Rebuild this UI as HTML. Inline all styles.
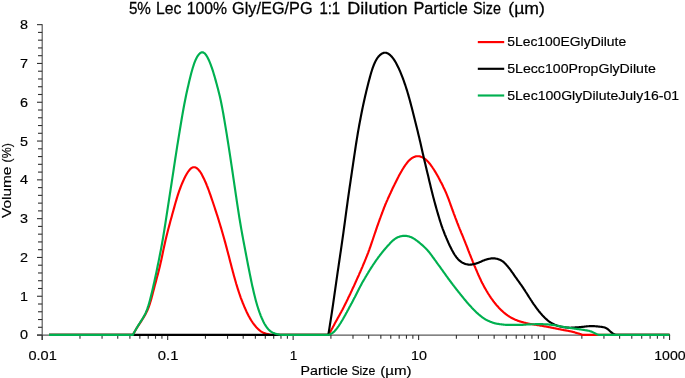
<!DOCTYPE html>
<html lang="en">
<head>
<meta charset="utf-8">
<title>5% Lec 100% Gly/EG/PG 1:1 Dilution Particle Size</title>
<style>
html,body{margin:0;padding:0;background:#fff;}
body{width:685px;height:378px;overflow:hidden;}
svg{display:block;}
text{font-family:"Liberation Sans",sans-serif;fill:#000;stroke:#000;stroke-width:0.18px;}
.ax line{stroke:#303030;stroke-width:1.1;}
.ax line.m{stroke:#5a5a5a;stroke-width:1.2;}
.lbl text{font-size:13.6px;}
text.ttl{stroke-width:0.28px;}
.curve{fill:none;stroke-width:2.15;stroke-linejoin:round;stroke-linecap:butt;}
</style>
</head>
<body>
<svg width="685" height="378" viewBox="0 0 685 378">
<rect width="685" height="378" fill="#fff"/>
<text class="ttl" y="14" font-size="17.1"><tspan x="128.9" textLength="22.0" lengthAdjust="spacingAndGlyphs">5%</tspan> <tspan x="156.1" textLength="25.3" lengthAdjust="spacingAndGlyphs">Lec</tspan> <tspan x="186.7" textLength="40.3" lengthAdjust="spacingAndGlyphs">100%</tspan> <tspan x="232.1" textLength="80.5" lengthAdjust="spacingAndGlyphs">Gly/EG/PG</tspan> <tspan x="319.4" textLength="20.8" lengthAdjust="spacingAndGlyphs">1:1</tspan> <tspan x="347.3" textLength="60.3" lengthAdjust="spacingAndGlyphs">Dilution</tspan> <tspan x="413.4" textLength="54.4" lengthAdjust="spacingAndGlyphs">Particle</tspan> <tspan x="473.1" textLength="27.8" lengthAdjust="spacingAndGlyphs">Size</tspan> <tspan x="508.3" textLength="36.6" lengthAdjust="spacingAndGlyphs">(µm)</tspan></text>
<g class="ax">
<line class="m" x1="42.2" y1="24.2" x2="42.2" y2="340.0"/>
<line class="m" x1="37" y1="335.05" x2="670.15" y2="335.05"/>
<line x1="37.0" y1="335.05" x2="42.2" y2="335.05"/>
<line x1="38.0" y1="327.29" x2="42.2" y2="327.29"/>
<line x1="38.0" y1="319.53" x2="42.2" y2="319.53"/>
<line x1="38.0" y1="311.77" x2="42.2" y2="311.77"/>
<line x1="38.0" y1="304.01" x2="42.2" y2="304.01"/>
<line x1="37.0" y1="296.25" x2="42.2" y2="296.25"/>
<line x1="38.0" y1="288.49" x2="42.2" y2="288.49"/>
<line x1="38.0" y1="280.73" x2="42.2" y2="280.73"/>
<line x1="38.0" y1="272.97" x2="42.2" y2="272.97"/>
<line x1="38.0" y1="265.21" x2="42.2" y2="265.21"/>
<line x1="37.0" y1="257.45" x2="42.2" y2="257.45"/>
<line x1="38.0" y1="249.69" x2="42.2" y2="249.69"/>
<line x1="38.0" y1="241.93" x2="42.2" y2="241.93"/>
<line x1="38.0" y1="234.17" x2="42.2" y2="234.17"/>
<line x1="38.0" y1="226.41" x2="42.2" y2="226.41"/>
<line x1="37.0" y1="218.65" x2="42.2" y2="218.65"/>
<line x1="38.0" y1="210.89" x2="42.2" y2="210.89"/>
<line x1="38.0" y1="203.13" x2="42.2" y2="203.13"/>
<line x1="38.0" y1="195.37" x2="42.2" y2="195.37"/>
<line x1="38.0" y1="187.61" x2="42.2" y2="187.61"/>
<line x1="37.0" y1="179.85" x2="42.2" y2="179.85"/>
<line x1="38.0" y1="172.09" x2="42.2" y2="172.09"/>
<line x1="38.0" y1="164.33" x2="42.2" y2="164.33"/>
<line x1="38.0" y1="156.57" x2="42.2" y2="156.57"/>
<line x1="38.0" y1="148.81" x2="42.2" y2="148.81"/>
<line x1="37.0" y1="141.05" x2="42.2" y2="141.05"/>
<line x1="38.0" y1="133.29" x2="42.2" y2="133.29"/>
<line x1="38.0" y1="125.53" x2="42.2" y2="125.53"/>
<line x1="38.0" y1="117.77" x2="42.2" y2="117.77"/>
<line x1="38.0" y1="110.01" x2="42.2" y2="110.01"/>
<line x1="37.0" y1="102.25" x2="42.2" y2="102.25"/>
<line x1="38.0" y1="94.49" x2="42.2" y2="94.49"/>
<line x1="38.0" y1="86.73" x2="42.2" y2="86.73"/>
<line x1="38.0" y1="78.97" x2="42.2" y2="78.97"/>
<line x1="38.0" y1="71.21" x2="42.2" y2="71.21"/>
<line x1="37.0" y1="63.45" x2="42.2" y2="63.45"/>
<line x1="38.0" y1="55.69" x2="42.2" y2="55.69"/>
<line x1="38.0" y1="47.93" x2="42.2" y2="47.93"/>
<line x1="38.0" y1="40.17" x2="42.2" y2="40.17"/>
<line x1="38.0" y1="32.41" x2="42.2" y2="32.41"/>
<line x1="37.0" y1="24.65" x2="42.2" y2="24.65"/>
<line x1="42.20" y1="335.05" x2="42.20" y2="340.0"/>
<line x1="79.97" y1="335.05" x2="79.97" y2="338.8"/>
<line x1="102.06" y1="335.05" x2="102.06" y2="338.8"/>
<line x1="117.74" y1="335.05" x2="117.74" y2="338.8"/>
<line x1="129.90" y1="335.05" x2="129.90" y2="338.8"/>
<line x1="139.83" y1="335.05" x2="139.83" y2="338.8"/>
<line x1="148.23" y1="335.05" x2="148.23" y2="338.8"/>
<line x1="155.51" y1="335.05" x2="155.51" y2="338.8"/>
<line x1="161.93" y1="335.05" x2="161.93" y2="338.8"/>
<line x1="167.67" y1="335.05" x2="167.67" y2="340.0"/>
<line x1="205.44" y1="335.05" x2="205.44" y2="338.8"/>
<line x1="227.53" y1="335.05" x2="227.53" y2="338.8"/>
<line x1="243.21" y1="335.05" x2="243.21" y2="338.8"/>
<line x1="255.37" y1="335.05" x2="255.37" y2="338.8"/>
<line x1="265.30" y1="335.05" x2="265.30" y2="338.8"/>
<line x1="273.70" y1="335.05" x2="273.70" y2="338.8"/>
<line x1="280.98" y1="335.05" x2="280.98" y2="338.8"/>
<line x1="287.40" y1="335.05" x2="287.40" y2="338.8"/>
<line x1="293.14" y1="335.05" x2="293.14" y2="340.0"/>
<line x1="330.91" y1="335.05" x2="330.91" y2="338.8"/>
<line x1="353.00" y1="335.05" x2="353.00" y2="338.8"/>
<line x1="368.68" y1="335.05" x2="368.68" y2="338.8"/>
<line x1="380.84" y1="335.05" x2="380.84" y2="338.8"/>
<line x1="390.77" y1="335.05" x2="390.77" y2="338.8"/>
<line x1="399.17" y1="335.05" x2="399.17" y2="338.8"/>
<line x1="406.45" y1="335.05" x2="406.45" y2="338.8"/>
<line x1="412.87" y1="335.05" x2="412.87" y2="338.8"/>
<line x1="418.61" y1="335.05" x2="418.61" y2="340.0"/>
<line x1="456.38" y1="335.05" x2="456.38" y2="338.8"/>
<line x1="478.47" y1="335.05" x2="478.47" y2="338.8"/>
<line x1="494.15" y1="335.05" x2="494.15" y2="338.8"/>
<line x1="506.31" y1="335.05" x2="506.31" y2="338.8"/>
<line x1="516.24" y1="335.05" x2="516.24" y2="338.8"/>
<line x1="524.64" y1="335.05" x2="524.64" y2="338.8"/>
<line x1="531.92" y1="335.05" x2="531.92" y2="338.8"/>
<line x1="538.34" y1="335.05" x2="538.34" y2="338.8"/>
<line x1="544.08" y1="335.05" x2="544.08" y2="340.0"/>
<line x1="581.85" y1="335.05" x2="581.85" y2="338.8"/>
<line x1="603.94" y1="335.05" x2="603.94" y2="338.8"/>
<line x1="619.62" y1="335.05" x2="619.62" y2="338.8"/>
<line x1="631.78" y1="335.05" x2="631.78" y2="338.8"/>
<line x1="641.71" y1="335.05" x2="641.71" y2="338.8"/>
<line x1="650.11" y1="335.05" x2="650.11" y2="338.8"/>
<line x1="657.39" y1="335.05" x2="657.39" y2="338.8"/>
<line x1="663.81" y1="335.05" x2="663.81" y2="338.8"/>
<line x1="669.55" y1="335.05" x2="669.55" y2="340.0"/>
</g>
<g class="lbl">
<text x="28" y="339.4" text-anchor="end" textLength="8" lengthAdjust="spacingAndGlyphs">0</text>
<text x="28" y="300.6" text-anchor="end" textLength="8" lengthAdjust="spacingAndGlyphs">1</text>
<text x="28" y="261.9" text-anchor="end" textLength="8" lengthAdjust="spacingAndGlyphs">2</text>
<text x="28" y="223.1" text-anchor="end" textLength="8" lengthAdjust="spacingAndGlyphs">3</text>
<text x="28" y="184.3" text-anchor="end" textLength="8" lengthAdjust="spacingAndGlyphs">4</text>
<text x="28" y="145.5" text-anchor="end" textLength="8" lengthAdjust="spacingAndGlyphs">5</text>
<text x="28" y="106.7" text-anchor="end" textLength="8" lengthAdjust="spacingAndGlyphs">6</text>
<text x="28" y="67.9" text-anchor="end" textLength="8" lengthAdjust="spacingAndGlyphs">7</text>
<text x="28" y="29.1" text-anchor="end" textLength="8" lengthAdjust="spacingAndGlyphs">8</text>
<text x="28.5" y="360.2" textLength="28.3" lengthAdjust="spacingAndGlyphs">0.01</text>
<text x="157.8" y="360.2" textLength="20.6" lengthAdjust="spacingAndGlyphs">0.1</text>
<text x="289.7" y="360.2" textLength="7.6" lengthAdjust="spacingAndGlyphs">1</text>
<text x="411.1" y="360.2" textLength="15.9" lengthAdjust="spacingAndGlyphs">10</text>
<text x="532.7" y="360.2" textLength="23.6" lengthAdjust="spacingAndGlyphs">100</text>
<text x="654.2" y="360.2" textLength="31.4" lengthAdjust="spacingAndGlyphs">1000</text>
<text y="374.5"><tspan x="300.6" textLength="47.4" lengthAdjust="spacingAndGlyphs">Particle</tspan> <tspan x="351.4" textLength="23.8" lengthAdjust="spacingAndGlyphs">Size</tspan> <tspan x="380.2" textLength="31.4" lengthAdjust="spacingAndGlyphs">(µm)</tspan></text>
<text transform="translate(11.1,218) rotate(-90)"><tspan x="0" textLength="51.4" lengthAdjust="spacingAndGlyphs">Volume</tspan> <tspan x="55.6" textLength="19.2" lengthAdjust="spacingAndGlyphs">(%)</tspan></text>
<text x="507.2" y="46.1" font-size="14" textLength="119" lengthAdjust="spacingAndGlyphs">5Lec100EGlyDilute</text>
<text x="507.2" y="72.8" font-size="14" textLength="148.6" lengthAdjust="spacingAndGlyphs">5Lecc100PropGlyDilute</text>
<text x="507.2" y="99.5" font-size="14" textLength="172" lengthAdjust="spacingAndGlyphs">5Lec100GlyDiluteJuly16-01</text>
</g>
<path class="curve" stroke="#ff0000" d="M49.0,334.9 L132.8,334.9 L132.8,334.9 L133.3,334.1 L133.8,333.2 L134.3,332.3 L134.8,331.4 L135.3,330.5 L135.8,329.7 L136.3,328.8 L136.8,328.0 L137.3,327.2 L137.8,326.4 L138.3,325.7 L138.8,324.9 L139.3,324.1 L139.8,323.4 L140.3,322.6 L140.8,321.8 L141.3,321.1 L141.8,320.3 L142.3,319.5 L142.8,318.7 L143.3,317.9 L143.8,317.1 L144.3,316.2 L144.8,315.4 L145.3,314.5 L145.8,313.6 L146.3,312.6 L146.8,311.6 L147.3,310.5 L147.8,309.3 L148.3,308.1 L148.8,306.8 L149.3,305.4 L149.8,303.9 L150.3,302.3 L150.8,300.6 L151.3,298.9 L151.8,297.0 L152.3,295.2 L152.8,293.3 L153.3,291.3 L153.8,289.4 L154.3,287.5 L154.8,285.6 L155.3,283.7 L155.8,281.9 L156.3,280.0 L156.8,278.1 L157.3,276.3 L157.8,274.4 L158.3,272.5 L158.8,270.5 L159.3,268.5 L159.8,266.5 L160.3,264.3 L160.8,262.1 L161.3,259.9 L161.8,257.5 L162.3,255.2 L162.8,252.8 L163.3,250.4 L163.8,248.0 L164.3,245.7 L164.8,243.4 L165.3,241.2 L165.8,239.1 L166.3,237.0 L166.8,235.0 L167.3,233.0 L167.8,231.0 L168.3,229.1 L168.8,227.2 L169.3,225.4 L169.8,223.5 L170.3,221.6 L170.8,219.8 L171.3,218.0 L171.8,216.2 L172.3,214.3 L172.8,212.5 L173.3,210.7 L173.8,208.9 L174.3,207.1 L174.8,205.3 L175.3,203.5 L175.8,201.8 L176.3,200.1 L176.8,198.4 L177.3,196.7 L177.8,195.1 L178.3,193.6 L178.8,192.1 L179.3,190.7 L179.8,189.3 L180.3,188.0 L180.8,186.7 L181.3,185.4 L181.8,184.2 L182.3,183.0 L182.8,181.8 L183.3,180.7 L183.8,179.6 L184.3,178.5 L184.8,177.5 L185.3,176.5 L185.8,175.6 L186.3,174.7 L186.8,173.8 L187.3,173.0 L187.8,172.2 L188.3,171.5 L188.8,170.8 L189.3,170.2 L189.8,169.6 L190.3,169.1 L190.8,168.6 L191.3,168.2 L191.8,167.9 L192.3,167.6 L192.8,167.4 L193.3,167.3 L193.8,167.2 L194.3,167.2 L194.8,167.3 L195.3,167.4 L195.8,167.6 L196.3,167.9 L196.8,168.2 L197.3,168.6 L197.8,169.0 L198.3,169.5 L198.8,170.1 L199.3,170.7 L199.8,171.3 L200.3,172.0 L200.8,172.8 L201.3,173.6 L201.8,174.5 L202.3,175.4 L202.8,176.4 L203.3,177.4 L203.8,178.4 L204.3,179.5 L204.8,180.6 L205.3,181.7 L205.8,182.8 L206.3,184.0 L206.8,185.3 L207.3,186.5 L207.8,187.8 L208.3,189.1 L208.8,190.5 L209.3,191.9 L209.8,193.3 L210.3,194.7 L210.8,196.2 L211.3,197.6 L211.8,199.1 L212.3,200.5 L212.8,202.0 L213.3,203.5 L213.8,205.0 L214.3,206.5 L214.8,208.0 L215.3,209.6 L215.8,211.1 L216.3,212.6 L216.8,214.2 L217.3,215.7 L217.8,217.3 L218.3,218.9 L218.8,220.5 L219.3,222.2 L219.8,223.8 L220.3,225.5 L220.8,227.1 L221.3,228.8 L221.8,230.5 L222.3,232.3 L222.8,234.0 L223.3,235.7 L223.8,237.5 L224.3,239.3 L224.8,241.1 L225.3,242.9 L225.8,244.8 L226.3,246.6 L226.8,248.5 L227.3,250.4 L227.8,252.3 L228.3,254.2 L228.8,256.1 L229.3,258.0 L229.8,260.0 L230.3,261.9 L230.8,263.8 L231.3,265.8 L231.8,267.7 L232.3,269.6 L232.8,271.5 L233.3,273.3 L233.8,275.2 L234.3,277.0 L234.8,278.8 L235.3,280.5 L235.8,282.2 L236.3,284.0 L236.8,285.6 L237.3,287.3 L237.8,288.9 L238.3,290.4 L238.8,292.0 L239.3,293.5 L239.8,294.9 L240.3,296.4 L240.8,297.8 L241.3,299.1 L241.8,300.4 L242.3,301.7 L242.8,303.0 L243.3,304.2 L243.8,305.4 L244.3,306.6 L244.8,307.8 L245.3,308.9 L245.8,310.0 L246.3,311.1 L246.8,312.2 L247.3,313.2 L247.8,314.2 L248.3,315.2 L248.8,316.2 L249.3,317.1 L249.8,318.0 L250.3,318.9 L250.8,319.7 L251.3,320.5 L251.8,321.3 L252.3,322.0 L252.8,322.8 L253.3,323.5 L253.8,324.1 L254.3,324.8 L254.8,325.4 L255.3,326.0 L255.8,326.6 L256.3,327.2 L256.8,327.7 L257.3,328.2 L257.8,328.7 L258.3,329.2 L258.8,329.7 L259.3,330.1 L259.8,330.5 L260.3,330.9 L260.8,331.3 L261.3,331.6 L261.8,331.9 L262.3,332.2 L262.8,332.4 L263.3,332.7 L263.8,332.9 L264.3,333.1 L264.8,333.3 L265.3,333.4 L265.8,333.6 L266.3,333.7 L266.8,333.9 L267.3,334.0 L267.8,334.1 L268.3,334.3 L268.8,334.4 L269.3,334.5 L269.8,334.6 L270.3,334.7 L270.8,334.8 L271.3,334.9 L271.8,334.9 L272.0,334.9 L328.3,334.9 L328.3,334.9 L328.8,334.2 L329.3,333.4 L329.8,332.6 L330.3,331.7 L330.8,330.9 L331.3,330.0 L331.8,329.1 L332.3,328.2 L332.8,327.2 L333.3,326.3 L333.8,325.4 L334.3,324.4 L334.8,323.5 L335.3,322.6 L335.8,321.7 L336.3,320.8 L336.8,319.9 L337.3,319.0 L337.8,318.1 L338.3,317.2 L338.8,316.3 L339.3,315.4 L339.8,314.5 L340.3,313.6 L340.8,312.7 L341.3,311.8 L341.8,310.8 L342.3,309.9 L342.8,308.9 L343.3,307.9 L343.8,307.0 L344.3,306.0 L344.8,305.0 L345.3,304.0 L345.8,303.0 L346.3,302.0 L346.8,300.9 L347.3,299.9 L347.8,298.9 L348.3,297.8 L348.8,296.8 L349.3,295.8 L349.8,294.7 L350.3,293.7 L350.8,292.6 L351.3,291.5 L351.8,290.5 L352.3,289.4 L352.8,288.3 L353.3,287.2 L353.8,286.2 L354.3,285.1 L354.8,284.0 L355.3,282.9 L355.8,281.8 L356.3,280.6 L356.8,279.5 L357.3,278.4 L357.8,277.3 L358.3,276.2 L358.8,275.1 L359.3,273.9 L359.8,272.8 L360.3,271.7 L360.8,270.5 L361.3,269.4 L361.8,268.2 L362.3,267.1 L362.8,265.9 L363.3,264.7 L363.8,263.5 L364.3,262.3 L364.8,261.1 L365.3,259.9 L365.8,258.7 L366.3,257.4 L366.8,256.2 L367.3,254.9 L367.8,253.6 L368.3,252.3 L368.8,250.9 L369.3,249.6 L369.8,248.2 L370.3,246.8 L370.8,245.4 L371.3,243.9 L371.8,242.4 L372.3,241.0 L372.8,239.5 L373.3,238.0 L373.8,236.5 L374.3,235.0 L374.8,233.5 L375.3,232.1 L375.8,230.6 L376.3,229.1 L376.8,227.7 L377.3,226.2 L377.8,224.8 L378.3,223.4 L378.8,222.0 L379.3,220.6 L379.8,219.2 L380.3,217.9 L380.8,216.5 L381.3,215.1 L381.8,213.8 L382.3,212.5 L382.8,211.1 L383.3,209.8 L383.8,208.5 L384.3,207.2 L384.8,206.0 L385.3,204.7 L385.8,203.5 L386.3,202.4 L386.8,201.2 L387.3,200.1 L387.8,198.9 L388.3,197.8 L388.8,196.7 L389.3,195.6 L389.8,194.5 L390.3,193.4 L390.8,192.4 L391.3,191.3 L391.8,190.2 L392.3,189.1 L392.8,188.1 L393.3,187.0 L393.8,186.0 L394.3,185.0 L394.8,183.9 L395.3,182.9 L395.8,181.9 L396.3,180.9 L396.8,179.9 L397.3,178.9 L397.8,177.9 L398.3,177.0 L398.8,176.0 L399.3,175.1 L399.8,174.2 L400.3,173.3 L400.8,172.4 L401.3,171.5 L401.8,170.7 L402.3,169.8 L402.8,169.0 L403.3,168.2 L403.8,167.4 L404.3,166.7 L404.8,165.9 L405.3,165.2 L405.8,164.5 L406.3,163.8 L406.8,163.1 L407.3,162.5 L407.8,161.9 L408.3,161.3 L408.8,160.8 L409.3,160.3 L409.8,159.8 L410.3,159.4 L410.8,159.0 L411.3,158.6 L411.8,158.2 L412.3,157.9 L412.8,157.6 L413.3,157.4 L413.8,157.1 L414.3,156.9 L414.8,156.7 L415.3,156.5 L415.8,156.4 L416.3,156.3 L416.8,156.2 L417.3,156.2 L417.8,156.2 L418.3,156.2 L418.8,156.2 L419.3,156.3 L419.8,156.4 L420.3,156.5 L420.8,156.7 L421.3,156.9 L421.8,157.1 L422.3,157.3 L422.8,157.6 L423.3,157.9 L423.8,158.2 L424.3,158.5 L424.8,158.8 L425.3,159.2 L425.8,159.6 L426.3,160.0 L426.8,160.5 L427.3,161.0 L427.8,161.5 L428.3,162.0 L428.8,162.6 L429.3,163.2 L429.8,163.8 L430.3,164.4 L430.8,165.1 L431.3,165.8 L431.8,166.5 L432.3,167.2 L432.8,168.0 L433.3,168.7 L433.8,169.5 L434.3,170.3 L434.8,171.1 L435.3,171.9 L435.8,172.7 L436.3,173.6 L436.8,174.4 L437.3,175.3 L437.8,176.2 L438.3,177.1 L438.8,178.1 L439.3,179.0 L439.8,179.9 L440.3,180.9 L440.8,181.9 L441.3,182.8 L441.8,183.8 L442.3,184.8 L442.8,185.8 L443.3,186.9 L443.8,187.9 L444.3,188.9 L444.8,190.0 L445.3,191.1 L445.8,192.2 L446.3,193.4 L446.8,194.6 L447.3,195.8 L447.8,197.1 L448.3,198.4 L448.8,199.7 L449.3,201.1 L449.8,202.5 L450.3,203.9 L450.8,205.3 L451.3,206.7 L451.8,208.1 L452.3,209.5 L452.8,210.8 L453.3,212.2 L453.8,213.6 L454.3,214.9 L454.8,216.2 L455.3,217.6 L455.8,218.9 L456.3,220.2 L456.8,221.5 L457.3,222.8 L457.8,224.0 L458.3,225.3 L458.8,226.6 L459.3,227.8 L459.8,229.1 L460.3,230.3 L460.8,231.5 L461.3,232.8 L461.8,234.0 L462.3,235.2 L462.8,236.4 L463.3,237.6 L463.8,238.9 L464.3,240.1 L464.8,241.3 L465.3,242.6 L465.8,243.9 L466.3,245.1 L466.8,246.4 L467.3,247.7 L467.8,249.0 L468.3,250.3 L468.8,251.5 L469.3,252.8 L469.8,254.1 L470.3,255.3 L470.8,256.6 L471.3,257.9 L471.8,259.1 L472.3,260.3 L472.8,261.6 L473.3,262.8 L473.8,264.0 L474.3,265.3 L474.8,266.5 L475.3,267.7 L475.8,268.9 L476.3,270.0 L476.8,271.2 L477.3,272.4 L477.8,273.5 L478.3,274.7 L478.8,275.8 L479.3,276.9 L479.8,278.0 L480.3,279.1 L480.8,280.1 L481.3,281.2 L481.8,282.2 L482.3,283.2 L482.8,284.1 L483.3,285.1 L483.8,286.0 L484.3,286.9 L484.8,287.9 L485.3,288.7 L485.8,289.6 L486.3,290.5 L486.8,291.3 L487.3,292.1 L487.8,293.0 L488.3,293.8 L488.8,294.5 L489.3,295.3 L489.8,296.1 L490.3,296.8 L490.8,297.6 L491.3,298.3 L491.8,299.0 L492.3,299.7 L492.8,300.4 L493.3,301.1 L493.8,301.7 L494.3,302.4 L494.8,303.0 L495.3,303.6 L495.8,304.3 L496.3,304.9 L496.8,305.4 L497.3,306.0 L497.8,306.6 L498.3,307.1 L498.8,307.7 L499.3,308.2 L499.8,308.7 L500.3,309.2 L500.8,309.7 L501.3,310.2 L501.8,310.7 L502.3,311.1 L502.8,311.6 L503.3,312.0 L503.8,312.5 L504.3,312.9 L504.8,313.3 L505.3,313.7 L505.8,314.1 L506.3,314.5 L506.8,314.8 L507.3,315.2 L507.8,315.6 L508.3,315.9 L508.8,316.2 L509.3,316.6 L509.8,316.9 L510.3,317.2 L510.8,317.5 L511.3,317.7 L511.8,318.0 L512.3,318.3 L512.8,318.5 L513.3,318.8 L513.8,319.0 L514.3,319.2 L514.8,319.5 L515.3,319.7 L515.8,319.9 L516.3,320.1 L516.8,320.3 L517.3,320.5 L517.8,320.7 L518.3,320.9 L518.8,321.0 L519.3,321.2 L519.8,321.4 L520.3,321.5 L520.8,321.7 L521.3,321.8 L521.8,322.0 L522.3,322.1 L522.8,322.3 L523.3,322.4 L523.8,322.5 L524.3,322.7 L524.8,322.8 L525.3,322.9 L525.8,323.0 L526.3,323.2 L526.8,323.3 L527.3,323.4 L527.8,323.5 L528.3,323.6 L528.8,323.7 L529.3,323.8 L529.8,323.9 L530.3,324.0 L530.8,324.0 L531.3,324.1 L531.8,324.2 L532.3,324.3 L532.8,324.4 L533.3,324.4 L533.8,324.5 L534.3,324.6 L534.8,324.7 L535.3,324.7 L535.8,324.8 L536.3,324.9 L536.8,325.0 L537.3,325.1 L537.8,325.1 L538.3,325.2 L538.8,325.3 L539.3,325.4 L539.8,325.5 L540.3,325.6 L540.8,325.6 L541.3,325.7 L541.8,325.8 L542.3,325.9 L542.8,326.0 L543.3,326.1 L543.8,326.2 L544.3,326.3 L544.8,326.3 L545.3,326.4 L545.8,326.5 L546.3,326.6 L546.8,326.7 L547.3,326.8 L547.8,326.9 L548.3,327.0 L548.8,327.1 L549.3,327.2 L549.8,327.3 L550.3,327.4 L550.8,327.5 L551.3,327.6 L551.8,327.7 L552.3,327.8 L552.8,327.9 L553.3,328.0 L553.8,328.1 L554.3,328.2 L554.8,328.3 L555.3,328.4 L555.8,328.5 L556.3,328.6 L556.8,328.7 L557.3,328.8 L557.8,328.9 L558.3,329.0 L558.8,329.1 L559.3,329.2 L559.8,329.3 L560.3,329.4 L560.8,329.5 L561.3,329.6 L561.8,329.7 L562.3,329.8 L562.8,329.9 L563.3,330.0 L563.8,330.1 L564.3,330.2 L564.8,330.3 L565.3,330.3 L565.8,330.4 L566.3,330.5 L566.8,330.6 L567.3,330.7 L567.8,330.8 L568.3,330.9 L568.8,331.0 L569.3,331.1 L569.8,331.2 L570.3,331.3 L570.8,331.4 L571.3,331.5 L571.8,331.6 L572.3,331.8 L572.8,331.9 L573.3,332.0 L573.8,332.1 L574.3,332.3 L574.8,332.4 L575.3,332.6 L575.8,332.7 L576.3,332.9 L576.8,333.0 L577.3,333.2 L577.8,333.3 L578.3,333.5 L578.8,333.6 L579.3,333.8 L579.8,333.9 L580.3,334.1 L580.8,334.3 L581.3,334.4 L581.8,334.6 L582.3,334.7 L582.8,334.9 L583.3,334.9 L583.3,334.9 L669.5,334.9"/>
<path class="curve" stroke="#000000" d="M49.0,334.9 L328.3,334.9 L328.3,334.9 L328.8,331.9 L329.3,328.8 L329.8,325.7 L330.3,322.5 L330.8,319.3 L331.3,316.1 L331.8,312.8 L332.3,309.5 L332.8,306.1 L333.3,302.7 L333.8,299.2 L334.3,295.7 L334.8,292.2 L335.3,288.7 L335.8,285.1 L336.3,281.6 L336.8,278.1 L337.3,274.7 L337.8,271.2 L338.3,267.8 L338.8,264.4 L339.3,261.0 L339.8,257.6 L340.3,254.2 L340.8,250.8 L341.3,247.4 L341.8,243.9 L342.3,240.4 L342.8,236.9 L343.3,233.3 L343.8,229.7 L344.3,226.0 L344.8,222.3 L345.3,218.6 L345.8,214.9 L346.3,211.2 L346.8,207.5 L347.3,203.9 L347.8,200.2 L348.3,196.7 L348.8,193.2 L349.3,189.7 L349.8,186.2 L350.3,182.8 L350.8,179.4 L351.3,176.0 L351.8,172.6 L352.3,169.2 L352.8,165.8 L353.3,162.4 L353.8,159.0 L354.3,155.6 L354.8,152.3 L355.3,149.0 L355.8,145.7 L356.3,142.5 L356.8,139.4 L357.3,136.3 L357.8,133.3 L358.3,130.4 L358.8,127.6 L359.3,124.8 L359.8,122.1 L360.3,119.5 L360.8,116.9 L361.3,114.3 L361.8,111.8 L362.3,109.3 L362.8,106.9 L363.3,104.5 L363.8,102.2 L364.3,99.9 L364.8,97.7 L365.3,95.5 L365.8,93.4 L366.3,91.3 L366.8,89.2 L367.3,87.2 L367.8,85.2 L368.3,83.2 L368.8,81.3 L369.3,79.4 L369.8,77.6 L370.3,75.8 L370.8,74.0 L371.3,72.3 L371.8,70.7 L372.3,69.2 L372.8,67.7 L373.3,66.3 L373.8,65.0 L374.3,63.8 L374.8,62.7 L375.3,61.6 L375.8,60.7 L376.3,59.8 L376.8,58.9 L377.3,58.2 L377.8,57.5 L378.3,56.8 L378.8,56.2 L379.3,55.7 L379.8,55.2 L380.3,54.8 L380.8,54.4 L381.3,54.0 L381.8,53.7 L382.3,53.4 L382.8,53.2 L383.3,53.0 L383.8,52.8 L384.3,52.7 L384.8,52.7 L385.3,52.7 L385.8,52.7 L386.3,52.8 L386.8,53.0 L387.3,53.2 L387.8,53.4 L388.3,53.7 L388.8,54.0 L389.3,54.4 L389.8,54.8 L390.3,55.2 L390.8,55.7 L391.3,56.2 L391.8,56.8 L392.3,57.4 L392.8,58.0 L393.3,58.7 L393.8,59.4 L394.3,60.1 L394.8,60.9 L395.3,61.7 L395.8,62.6 L396.3,63.5 L396.8,64.4 L397.3,65.4 L397.8,66.4 L398.3,67.4 L398.8,68.5 L399.3,69.6 L399.8,70.7 L400.3,71.9 L400.8,73.1 L401.3,74.3 L401.8,75.6 L402.3,76.9 L402.8,78.2 L403.3,79.5 L403.8,80.9 L404.3,82.3 L404.8,83.8 L405.3,85.2 L405.8,86.8 L406.3,88.3 L406.8,89.9 L407.3,91.5 L407.8,93.2 L408.3,94.9 L408.8,96.7 L409.3,98.4 L409.8,100.3 L410.3,102.1 L410.8,104.0 L411.3,105.9 L411.8,107.8 L412.3,109.8 L412.8,111.8 L413.3,113.8 L413.8,115.8 L414.3,117.8 L414.8,119.8 L415.3,121.8 L415.8,123.8 L416.3,125.8 L416.8,127.8 L417.3,129.8 L417.8,131.8 L418.3,133.9 L418.8,135.9 L419.3,138.0 L419.8,140.2 L420.3,142.3 L420.8,144.5 L421.3,146.8 L421.8,149.0 L422.3,151.2 L422.8,153.4 L423.3,155.6 L423.8,157.8 L424.3,159.9 L424.8,162.0 L425.3,164.1 L425.8,166.2 L426.3,168.3 L426.8,170.4 L427.3,172.4 L427.8,174.5 L428.3,176.6 L428.8,178.8 L429.3,180.9 L429.8,183.0 L430.3,185.1 L430.8,187.2 L431.3,189.3 L431.8,191.3 L432.3,193.3 L432.8,195.3 L433.3,197.2 L433.8,199.1 L434.3,201.0 L434.8,202.8 L435.3,204.6 L435.8,206.4 L436.3,208.2 L436.8,210.0 L437.3,211.7 L437.8,213.4 L438.3,215.1 L438.8,216.8 L439.3,218.5 L439.8,220.1 L440.3,221.7 L440.8,223.3 L441.3,224.8 L441.8,226.3 L442.3,227.7 L442.8,229.1 L443.3,230.4 L443.8,231.7 L444.3,233.0 L444.8,234.3 L445.3,235.5 L445.8,236.7 L446.3,237.9 L446.8,239.0 L447.3,240.2 L447.8,241.3 L448.3,242.5 L448.8,243.6 L449.3,244.7 L449.8,245.8 L450.3,246.8 L450.8,247.8 L451.3,248.8 L451.8,249.8 L452.3,250.7 L452.8,251.6 L453.3,252.5 L453.8,253.4 L454.3,254.2 L454.8,255.0 L455.3,255.7 L455.8,256.4 L456.3,257.1 L456.8,257.7 L457.3,258.3 L457.8,258.9 L458.3,259.4 L458.8,259.9 L459.3,260.4 L459.8,260.8 L460.3,261.2 L460.8,261.6 L461.3,262.0 L461.8,262.3 L462.3,262.6 L462.8,262.9 L463.3,263.1 L463.8,263.3 L464.3,263.6 L464.8,263.7 L465.3,263.9 L465.8,264.1 L466.3,264.2 L466.8,264.3 L467.3,264.4 L467.8,264.5 L468.3,264.6 L468.8,264.6 L469.3,264.7 L469.8,264.7 L470.3,264.6 L470.8,264.6 L471.3,264.6 L471.8,264.5 L472.3,264.4 L472.8,264.3 L473.3,264.2 L473.8,264.1 L474.3,264.0 L474.8,263.9 L475.3,263.7 L475.8,263.6 L476.3,263.5 L476.8,263.3 L477.3,263.1 L477.8,263.0 L478.3,262.8 L478.8,262.6 L479.3,262.4 L479.8,262.1 L480.3,261.9 L480.8,261.7 L481.3,261.5 L481.8,261.2 L482.3,261.0 L482.8,260.8 L483.3,260.6 L483.8,260.4 L484.3,260.2 L484.8,260.0 L485.3,259.8 L485.8,259.7 L486.3,259.5 L486.8,259.4 L487.3,259.3 L487.8,259.1 L488.3,259.0 L488.8,258.9 L489.3,258.8 L489.8,258.7 L490.3,258.6 L490.8,258.5 L491.3,258.4 L491.8,258.4 L492.3,258.4 L492.8,258.3 L493.3,258.3 L493.8,258.3 L494.3,258.4 L494.8,258.4 L495.3,258.5 L495.8,258.6 L496.3,258.7 L496.8,258.8 L497.3,258.9 L497.8,259.0 L498.3,259.2 L498.8,259.4 L499.3,259.6 L499.8,259.8 L500.3,260.0 L500.8,260.2 L501.3,260.5 L501.8,260.8 L502.3,261.1 L502.8,261.4 L503.3,261.8 L503.8,262.2 L504.3,262.7 L504.8,263.2 L505.3,263.7 L505.8,264.2 L506.3,264.8 L506.8,265.4 L507.3,265.9 L507.8,266.5 L508.3,267.2 L508.8,267.8 L509.3,268.4 L509.8,269.0 L510.3,269.7 L510.8,270.4 L511.3,271.1 L511.8,271.8 L512.3,272.5 L512.8,273.2 L513.3,273.9 L513.8,274.6 L514.3,275.4 L514.8,276.1 L515.3,276.8 L515.8,277.5 L516.3,278.2 L516.8,278.9 L517.3,279.6 L517.8,280.3 L518.3,281.0 L518.8,281.7 L519.3,282.4 L519.8,283.1 L520.3,283.8 L520.8,284.5 L521.3,285.2 L521.8,285.9 L522.3,286.7 L522.8,287.4 L523.3,288.1 L523.8,288.9 L524.3,289.6 L524.8,290.4 L525.3,291.2 L525.8,292.0 L526.3,292.7 L526.8,293.5 L527.3,294.3 L527.8,295.1 L528.3,295.9 L528.8,296.7 L529.3,297.5 L529.8,298.2 L530.3,299.0 L530.8,299.8 L531.3,300.5 L531.8,301.3 L532.3,302.1 L532.8,302.8 L533.3,303.6 L533.8,304.3 L534.3,305.0 L534.8,305.7 L535.3,306.4 L535.8,307.1 L536.3,307.8 L536.8,308.5 L537.3,309.1 L537.8,309.8 L538.3,310.4 L538.8,311.1 L539.3,311.7 L539.8,312.3 L540.3,312.9 L540.8,313.5 L541.3,314.0 L541.8,314.6 L542.3,315.2 L542.8,315.7 L543.3,316.2 L543.8,316.7 L544.3,317.3 L544.8,317.8 L545.3,318.2 L545.8,318.7 L546.3,319.2 L546.8,319.6 L547.3,320.1 L547.8,320.5 L548.3,320.9 L548.8,321.3 L549.3,321.6 L549.8,322.0 L550.3,322.3 L550.8,322.6 L551.3,322.9 L551.8,323.2 L552.3,323.5 L552.8,323.7 L553.3,324.0 L553.8,324.3 L554.3,324.5 L554.8,324.7 L555.3,324.9 L555.8,325.1 L556.3,325.3 L556.8,325.5 L557.3,325.7 L557.8,325.9 L558.3,326.0 L558.8,326.1 L559.3,326.3 L559.8,326.4 L560.3,326.5 L560.8,326.6 L561.3,326.7 L561.8,326.8 L562.3,326.9 L562.8,327.0 L563.3,327.1 L563.8,327.2 L564.3,327.2 L564.8,327.3 L565.3,327.4 L565.8,327.4 L566.3,327.5 L566.8,327.5 L567.3,327.6 L567.8,327.6 L568.3,327.6 L568.8,327.6 L569.3,327.7 L569.8,327.7 L570.3,327.7 L570.8,327.7 L571.3,327.6 L571.8,327.6 L572.3,327.6 L572.8,327.6 L573.3,327.6 L573.8,327.5 L574.3,327.5 L574.8,327.5 L575.3,327.4 L575.8,327.4 L576.3,327.4 L576.8,327.3 L577.3,327.3 L577.8,327.3 L578.3,327.2 L578.8,327.2 L579.3,327.1 L579.8,327.1 L580.3,327.1 L580.8,327.0 L581.3,327.0 L581.8,326.9 L582.3,326.9 L582.8,326.8 L583.3,326.8 L583.8,326.7 L584.3,326.6 L584.8,326.6 L585.3,326.5 L585.8,326.5 L586.3,326.4 L586.8,326.3 L587.3,326.3 L587.8,326.2 L588.3,326.2 L588.8,326.2 L589.3,326.1 L589.8,326.1 L590.3,326.1 L590.8,326.1 L591.3,326.1 L591.8,326.1 L592.3,326.1 L592.8,326.1 L593.3,326.1 L593.8,326.1 L594.3,326.1 L594.8,326.2 L595.3,326.2 L595.8,326.3 L596.3,326.3 L596.8,326.4 L597.3,326.4 L597.8,326.5 L598.3,326.5 L598.8,326.6 L599.3,326.6 L599.8,326.7 L600.3,326.7 L600.8,326.8 L601.3,326.9 L601.8,326.9 L602.3,327.0 L602.8,327.1 L603.3,327.2 L603.8,327.3 L604.3,327.4 L604.8,327.6 L605.3,327.8 L605.8,328.0 L606.3,328.2 L606.8,328.5 L607.3,328.8 L607.8,329.2 L608.3,329.6 L608.8,330.0 L609.3,330.5 L609.8,331.0 L610.3,331.4 L610.8,331.9 L611.3,332.3 L611.8,332.7 L612.3,333.1 L612.8,333.5 L613.3,333.8 L613.8,334.1 L614.3,334.3 L614.8,334.5 L615.3,334.7 L615.8,334.9 L616.0,334.9 L669.5,334.9"/>
<path class="curve" stroke="#00b050" d="M49.0,334.9 L132.8,334.9 L132.8,334.9 L133.3,334.1 L133.8,333.1 L134.3,332.2 L134.8,331.3 L135.3,330.4 L135.8,329.6 L136.3,328.7 L136.8,327.9 L137.3,327.0 L137.8,326.2 L138.3,325.4 L138.8,324.6 L139.3,323.8 L139.8,323.0 L140.3,322.2 L140.8,321.4 L141.3,320.7 L141.8,319.9 L142.3,319.0 L142.8,318.2 L143.3,317.4 L143.8,316.5 L144.3,315.6 L144.8,314.7 L145.3,313.7 L145.8,312.6 L146.3,311.4 L146.8,310.2 L147.3,308.9 L147.8,307.4 L148.3,305.9 L148.8,304.2 L149.3,302.5 L149.8,300.7 L150.3,298.8 L150.8,296.8 L151.3,294.8 L151.8,292.8 L152.3,290.7 L152.8,288.5 L153.3,286.3 L153.8,284.1 L154.3,281.9 L154.8,279.6 L155.3,277.3 L155.8,275.0 L156.3,272.6 L156.8,270.2 L157.3,267.8 L157.8,265.3 L158.3,262.9 L158.8,260.4 L159.3,257.9 L159.8,255.3 L160.3,252.8 L160.8,250.2 L161.3,247.5 L161.8,244.8 L162.3,242.0 L162.8,239.2 L163.3,236.2 L163.8,233.3 L164.3,230.2 L164.8,227.0 L165.3,223.9 L165.8,220.6 L166.3,217.4 L166.8,214.1 L167.3,210.9 L167.8,207.6 L168.3,204.4 L168.8,201.1 L169.3,197.9 L169.8,194.7 L170.3,191.5 L170.8,188.2 L171.3,185.0 L171.8,181.7 L172.3,178.4 L172.8,175.1 L173.3,171.8 L173.8,168.5 L174.3,165.1 L174.8,161.8 L175.3,158.5 L175.8,155.3 L176.3,152.1 L176.8,148.9 L177.3,145.7 L177.8,142.6 L178.3,139.5 L178.8,136.4 L179.3,133.3 L179.8,130.3 L180.3,127.3 L180.8,124.3 L181.3,121.3 L181.8,118.3 L182.3,115.4 L182.8,112.5 L183.3,109.7 L183.8,107.0 L184.3,104.3 L184.8,101.7 L185.3,99.2 L185.8,96.7 L186.3,94.3 L186.8,92.0 L187.3,89.8 L187.8,87.5 L188.3,85.4 L188.8,83.2 L189.3,81.1 L189.8,79.0 L190.3,77.0 L190.8,75.0 L191.3,73.1 L191.8,71.2 L192.3,69.5 L192.8,67.8 L193.3,66.2 L193.8,64.6 L194.3,63.2 L194.8,61.9 L195.3,60.7 L195.8,59.5 L196.3,58.5 L196.8,57.5 L197.3,56.6 L197.8,55.8 L198.3,55.1 L198.8,54.5 L199.3,53.9 L199.8,53.4 L200.3,53.0 L200.8,52.7 L201.3,52.5 L201.8,52.3 L202.3,52.3 L202.8,52.3 L203.3,52.5 L203.8,52.8 L204.3,53.1 L204.8,53.6 L205.3,54.1 L205.8,54.7 L206.3,55.4 L206.8,56.2 L207.3,57.1 L207.8,58.0 L208.3,59.0 L208.8,60.0 L209.3,61.2 L209.8,62.4 L210.3,63.6 L210.8,64.9 L211.3,66.3 L211.8,67.7 L212.3,69.2 L212.8,70.7 L213.3,72.3 L213.8,74.0 L214.3,75.6 L214.8,77.3 L215.3,79.1 L215.8,80.9 L216.3,82.7 L216.8,84.5 L217.3,86.4 L217.8,88.3 L218.3,90.2 L218.8,92.2 L219.3,94.2 L219.8,96.3 L220.3,98.5 L220.8,100.8 L221.3,103.2 L221.8,105.7 L222.3,108.4 L222.8,111.1 L223.3,113.8 L223.8,116.7 L224.3,119.6 L224.8,122.6 L225.3,125.6 L225.8,128.6 L226.3,131.6 L226.8,134.7 L227.3,137.9 L227.8,141.0 L228.3,144.2 L228.8,147.4 L229.3,150.6 L229.8,153.9 L230.3,157.1 L230.8,160.5 L231.3,163.8 L231.8,167.1 L232.3,170.5 L232.8,173.9 L233.3,177.3 L233.8,180.7 L234.3,184.1 L234.8,187.5 L235.3,190.9 L235.8,194.3 L236.3,197.7 L236.8,201.1 L237.3,204.4 L237.8,207.7 L238.3,210.9 L238.8,214.1 L239.3,217.3 L239.8,220.3 L240.3,223.3 L240.8,226.3 L241.3,229.1 L241.8,231.9 L242.3,234.7 L242.8,237.4 L243.3,240.1 L243.8,242.8 L244.3,245.4 L244.8,248.0 L245.3,250.6 L245.8,253.3 L246.3,255.9 L246.8,258.5 L247.3,261.1 L247.8,263.7 L248.3,266.2 L248.8,268.8 L249.3,271.3 L249.8,273.9 L250.3,276.3 L250.8,278.8 L251.3,281.2 L251.8,283.6 L252.3,285.9 L252.8,288.1 L253.3,290.3 L253.8,292.5 L254.3,294.6 L254.8,296.6 L255.3,298.5 L255.8,300.4 L256.3,302.2 L256.8,304.0 L257.3,305.7 L257.8,307.3 L258.3,308.8 L258.8,310.3 L259.3,311.8 L259.8,313.2 L260.3,314.5 L260.8,315.8 L261.3,317.0 L261.8,318.2 L262.3,319.3 L262.8,320.4 L263.3,321.5 L263.8,322.4 L264.3,323.4 L264.8,324.3 L265.3,325.1 L265.8,325.9 L266.3,326.7 L266.8,327.4 L267.3,328.0 L267.8,328.6 L268.3,329.2 L268.8,329.7 L269.3,330.2 L269.8,330.7 L270.3,331.1 L270.8,331.5 L271.3,331.8 L271.8,332.1 L272.3,332.4 L272.8,332.7 L273.3,332.9 L273.8,333.1 L274.3,333.3 L274.8,333.5 L275.3,333.7 L275.8,333.8 L276.3,334.0 L276.8,334.1 L277.3,334.2 L277.8,334.3 L278.3,334.4 L278.8,334.5 L279.3,334.6 L279.8,334.7 L280.3,334.7 L280.8,334.8 L281.3,334.9 L281.8,334.9 L282.3,334.9 L282.5,334.9 L328.3,334.9 L328.3,334.9 L328.8,334.8 L329.3,334.6 L329.8,334.4 L330.3,334.2 L330.8,334.0 L331.3,333.7 L331.8,333.4 L332.3,333.1 L332.8,332.7 L333.3,332.3 L333.8,331.9 L334.3,331.4 L334.8,330.9 L335.3,330.3 L335.8,329.8 L336.3,329.2 L336.8,328.5 L337.3,327.9 L337.8,327.2 L338.3,326.5 L338.8,325.8 L339.3,325.0 L339.8,324.2 L340.3,323.5 L340.8,322.7 L341.3,321.8 L341.8,321.0 L342.3,320.2 L342.8,319.3 L343.3,318.5 L343.8,317.6 L344.3,316.7 L344.8,315.8 L345.3,314.9 L345.8,314.0 L346.3,313.1 L346.8,312.2 L347.3,311.2 L347.8,310.3 L348.3,309.4 L348.8,308.4 L349.3,307.5 L349.8,306.6 L350.3,305.7 L350.8,304.7 L351.3,303.8 L351.8,302.9 L352.3,301.9 L352.8,301.0 L353.3,300.0 L353.8,299.1 L354.3,298.1 L354.8,297.2 L355.3,296.2 L355.8,295.2 L356.3,294.2 L356.8,293.2 L357.3,292.2 L357.8,291.2 L358.3,290.2 L358.8,289.2 L359.3,288.2 L359.8,287.3 L360.3,286.3 L360.8,285.4 L361.3,284.4 L361.8,283.5 L362.3,282.6 L362.8,281.7 L363.3,280.9 L363.8,280.0 L364.3,279.2 L364.8,278.3 L365.3,277.5 L365.8,276.6 L366.3,275.8 L366.8,274.9 L367.3,274.1 L367.8,273.3 L368.3,272.4 L368.8,271.6 L369.3,270.8 L369.8,270.0 L370.3,269.2 L370.8,268.4 L371.3,267.6 L371.8,266.8 L372.3,266.1 L372.8,265.3 L373.3,264.5 L373.8,263.8 L374.3,263.1 L374.8,262.3 L375.3,261.6 L375.8,260.9 L376.3,260.2 L376.8,259.5 L377.3,258.8 L377.8,258.1 L378.3,257.4 L378.8,256.7 L379.3,256.1 L379.8,255.4 L380.3,254.8 L380.8,254.1 L381.3,253.5 L381.8,252.9 L382.3,252.2 L382.8,251.6 L383.3,251.0 L383.8,250.4 L384.3,249.8 L384.8,249.2 L385.3,248.6 L385.8,248.0 L386.3,247.5 L386.8,246.9 L387.3,246.3 L387.8,245.8 L388.3,245.2 L388.8,244.7 L389.3,244.2 L389.8,243.6 L390.3,243.1 L390.8,242.6 L391.3,242.1 L391.8,241.6 L392.3,241.1 L392.8,240.6 L393.3,240.2 L393.8,239.8 L394.3,239.4 L394.8,239.0 L395.3,238.7 L395.8,238.3 L396.3,238.0 L396.8,237.8 L397.3,237.5 L397.8,237.3 L398.3,237.1 L398.8,236.9 L399.3,236.7 L399.8,236.5 L400.3,236.4 L400.8,236.3 L401.3,236.2 L401.8,236.1 L402.3,236.0 L402.8,235.9 L403.3,235.9 L403.8,235.9 L404.3,235.8 L404.8,235.8 L405.3,235.8 L405.8,235.9 L406.3,235.9 L406.8,236.0 L407.3,236.1 L407.8,236.2 L408.3,236.3 L408.8,236.4 L409.3,236.5 L409.8,236.7 L410.3,236.9 L410.8,237.1 L411.3,237.3 L411.8,237.5 L412.3,237.8 L412.8,238.0 L413.3,238.3 L413.8,238.6 L414.3,238.9 L414.8,239.2 L415.3,239.6 L415.8,239.9 L416.3,240.3 L416.8,240.6 L417.3,241.0 L417.8,241.4 L418.3,241.8 L418.8,242.2 L419.3,242.6 L419.8,243.0 L420.3,243.5 L420.8,243.9 L421.3,244.3 L421.8,244.7 L422.3,245.2 L422.8,245.6 L423.3,246.1 L423.8,246.5 L424.3,247.0 L424.8,247.5 L425.3,247.9 L425.8,248.4 L426.3,248.9 L426.8,249.5 L427.3,250.0 L427.8,250.6 L428.3,251.2 L428.8,251.8 L429.3,252.4 L429.8,253.0 L430.3,253.7 L430.8,254.3 L431.3,255.0 L431.8,255.7 L432.3,256.4 L432.8,257.1 L433.3,257.8 L433.8,258.4 L434.3,259.1 L434.8,259.8 L435.3,260.5 L435.8,261.2 L436.3,261.9 L436.8,262.6 L437.3,263.3 L437.8,264.0 L438.3,264.7 L438.8,265.4 L439.3,266.0 L439.8,266.7 L440.3,267.4 L440.8,268.1 L441.3,268.8 L441.8,269.5 L442.3,270.2 L442.8,270.9 L443.3,271.6 L443.8,272.3 L444.3,273.0 L444.8,273.7 L445.3,274.4 L445.8,275.1 L446.3,275.8 L446.8,276.5 L447.3,277.2 L447.8,277.9 L448.3,278.6 L448.8,279.3 L449.3,279.9 L449.8,280.6 L450.3,281.3 L450.8,281.9 L451.3,282.6 L451.8,283.3 L452.3,283.9 L452.8,284.6 L453.3,285.2 L453.8,285.9 L454.3,286.5 L454.8,287.2 L455.3,287.8 L455.8,288.5 L456.3,289.1 L456.8,289.8 L457.3,290.4 L457.8,291.0 L458.3,291.7 L458.8,292.3 L459.3,292.9 L459.8,293.5 L460.3,294.2 L460.8,294.8 L461.3,295.4 L461.8,296.0 L462.3,296.6 L462.8,297.2 L463.3,297.9 L463.8,298.5 L464.3,299.1 L464.8,299.7 L465.3,300.3 L465.8,300.9 L466.3,301.5 L466.8,302.1 L467.3,302.7 L467.8,303.2 L468.3,303.8 L468.8,304.4 L469.3,304.9 L469.8,305.5 L470.3,306.1 L470.8,306.6 L471.3,307.1 L471.8,307.7 L472.3,308.2 L472.8,308.7 L473.3,309.3 L473.8,309.8 L474.3,310.3 L474.8,310.8 L475.3,311.3 L475.8,311.8 L476.3,312.3 L476.8,312.7 L477.3,313.2 L477.8,313.6 L478.3,314.1 L478.8,314.5 L479.3,314.9 L479.8,315.3 L480.3,315.7 L480.8,316.1 L481.3,316.5 L481.8,316.9 L482.3,317.3 L482.8,317.6 L483.3,318.0 L483.8,318.3 L484.3,318.6 L484.8,319.0 L485.3,319.3 L485.8,319.6 L486.3,319.9 L486.8,320.1 L487.3,320.4 L487.8,320.6 L488.3,320.9 L488.8,321.1 L489.3,321.3 L489.8,321.5 L490.3,321.7 L490.8,321.9 L491.3,322.1 L491.8,322.3 L492.3,322.5 L492.8,322.7 L493.3,322.8 L493.8,323.0 L494.3,323.1 L494.8,323.2 L495.3,323.4 L495.8,323.5 L496.3,323.6 L496.8,323.7 L497.3,323.8 L497.8,323.9 L498.3,323.9 L498.8,324.0 L499.3,324.1 L499.8,324.2 L500.3,324.2 L500.8,324.3 L501.3,324.4 L501.8,324.4 L502.3,324.5 L502.8,324.5 L503.3,324.6 L503.8,324.6 L504.3,324.7 L504.8,324.7 L505.3,324.8 L505.8,324.8 L506.3,324.8 L506.8,324.8 L507.3,324.9 L507.8,324.9 L508.3,324.9 L508.8,324.9 L509.3,324.9 L509.8,324.9 L510.3,324.9 L510.8,324.9 L511.3,324.9 L511.8,324.9 L512.3,324.9 L512.8,324.9 L513.3,324.9 L513.8,324.9 L514.3,324.9 L514.8,324.9 L515.3,324.9 L515.8,324.9 L516.3,324.9 L516.8,324.9 L517.3,324.9 L517.8,324.9 L518.3,324.9 L518.8,324.9 L519.3,324.9 L519.8,324.9 L520.3,324.9 L520.8,324.9 L521.3,324.9 L521.8,324.8 L522.3,324.8 L522.8,324.8 L523.3,324.8 L523.8,324.7 L524.3,324.7 L524.8,324.7 L525.3,324.6 L525.8,324.6 L526.3,324.5 L526.8,324.5 L527.3,324.5 L527.8,324.4 L528.3,324.4 L528.8,324.4 L529.3,324.3 L529.8,324.3 L530.3,324.3 L530.8,324.3 L531.3,324.2 L531.8,324.2 L532.3,324.2 L532.8,324.2 L533.3,324.2 L533.8,324.2 L534.3,324.2 L534.8,324.2 L535.3,324.1 L535.8,324.1 L536.3,324.1 L536.8,324.1 L537.3,324.1 L537.8,324.1 L538.3,324.1 L538.8,324.1 L539.3,324.1 L539.8,324.1 L540.3,324.1 L540.8,324.1 L541.3,324.1 L541.8,324.1 L542.3,324.1 L542.8,324.1 L543.3,324.2 L543.8,324.2 L544.3,324.2 L544.8,324.2 L545.3,324.2 L545.8,324.3 L546.3,324.3 L546.8,324.3 L547.3,324.4 L547.8,324.4 L548.3,324.5 L548.8,324.5 L549.3,324.6 L549.8,324.6 L550.3,324.6 L550.8,324.7 L551.3,324.8 L551.8,324.8 L552.3,324.9 L552.8,324.9 L553.3,325.0 L553.8,325.1 L554.3,325.2 L554.8,325.2 L555.3,325.3 L555.8,325.4 L556.3,325.5 L556.8,325.6 L557.3,325.7 L557.8,325.8 L558.3,325.9 L558.8,326.0 L559.3,326.1 L559.8,326.2 L560.3,326.3 L560.8,326.5 L561.3,326.6 L561.8,326.7 L562.3,326.7 L562.8,326.8 L563.3,326.9 L563.8,327.0 L564.3,327.1 L564.8,327.2 L565.3,327.3 L565.8,327.3 L566.3,327.4 L566.8,327.5 L567.3,327.6 L567.8,327.6 L568.3,327.7 L568.8,327.8 L569.3,327.9 L569.8,327.9 L570.3,328.0 L570.8,328.1 L571.3,328.1 L571.8,328.2 L572.3,328.3 L572.8,328.4 L573.3,328.4 L573.8,328.5 L574.3,328.6 L574.8,328.6 L575.3,328.7 L575.8,328.8 L576.3,328.8 L576.8,328.9 L577.3,329.0 L577.8,329.1 L578.3,329.1 L578.8,329.2 L579.3,329.3 L579.8,329.3 L580.3,329.4 L580.8,329.5 L581.3,329.5 L581.8,329.6 L582.3,329.7 L582.8,329.8 L583.3,329.8 L583.8,329.9 L584.3,330.0 L584.8,330.1 L585.3,330.2 L585.8,330.3 L586.3,330.3 L586.8,330.4 L587.3,330.5 L587.8,330.6 L588.3,330.7 L588.8,330.8 L589.3,330.9 L589.8,331.1 L590.3,331.2 L590.8,331.4 L591.3,331.5 L591.8,331.7 L592.3,331.9 L592.8,332.2 L593.3,332.4 L593.8,332.7 L594.3,332.9 L594.8,333.2 L595.3,333.5 L595.8,333.7 L596.3,334.0 L596.8,334.2 L597.3,334.4 L597.8,334.6 L598.3,334.8 L598.8,334.9 L598.8,334.9 L669.5,334.9"/>
<g fill="none" stroke-width="2.15" stroke-linecap="butt">
<line x1="477.8" y1="42.1" x2="504.2" y2="42.1" stroke="#ff0000"/>
<line x1="477.8" y1="68.8" x2="504.2" y2="68.8" stroke="#000000"/>
<line x1="477.8" y1="95.5" x2="504.2" y2="95.5" stroke="#00b050"/>
</g>
</svg>
</body>
</html>
